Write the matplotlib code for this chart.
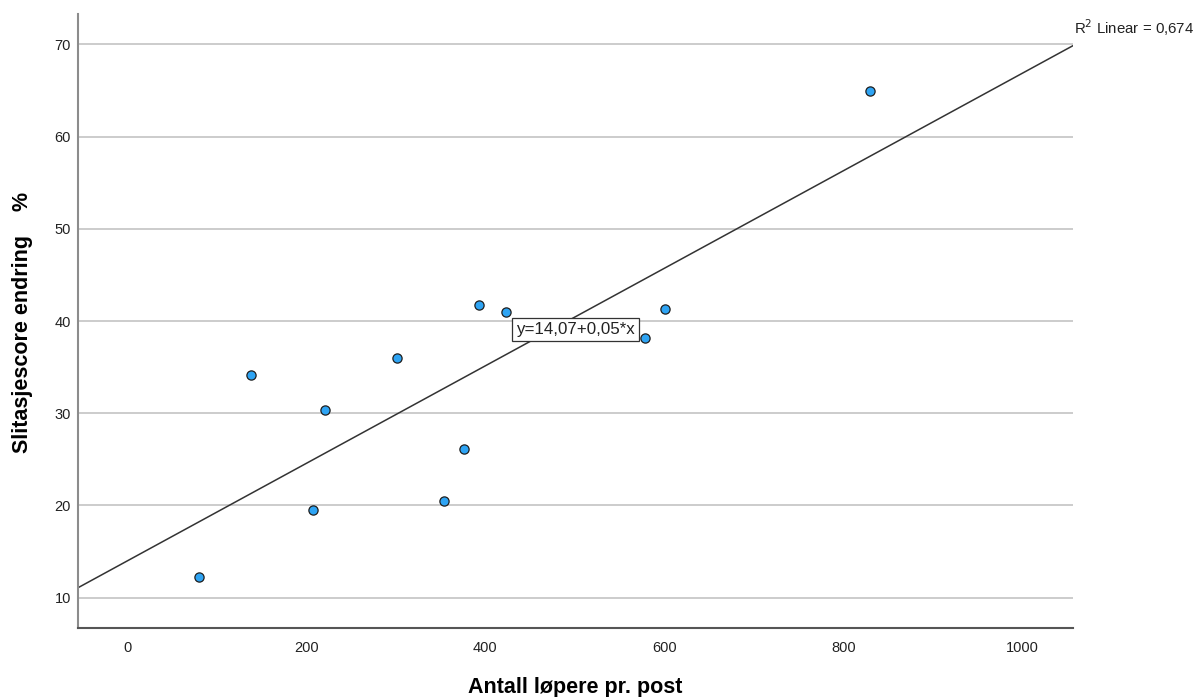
import numpy as np
import matplotlib.pyplot as plt

plt.rcParams['font.family'] = ['Liberation Sans', 'DejaVu Sans']

# data
runners = [80, 139, 208, 221, 301, 354, 376, 393, 423, 579, 601, 830]
wear_change = [12.2, 34.2, 19.5, 30.3, 36.0, 20.5, 26.1, 41.7, 41.0, 38.2, 41.3, 65.0]
x_ticks = [0, 200, 400, 600, 800, 1000]
y_ticks = [10, 20, 30, 40, 50, 60, 70]
fit_label = 'y=14,07+0,05*x'
r2_label = 'R$^2$ Linear = 0,674'

W, H = 1195, 697
fig = plt.figure(figsize=(W/100, H/100), dpi=100)
ax = fig.add_axes([0.0653, 0.0986, 0.8322, 0.8813])

xlim = (-54.7, 1056)
ylim = (6.68, 73.3)
ax.set_xlim(xlim)
ax.set_ylim(ylim)

for yt in y_ticks:
	ax.axhline(yt, color='#c8c8c8', lw=1.3, zorder=0)

slope, icpt = np.polyfit(runners, wear_change, 1)
xl = np.array(xlim)
ax.plot(xl, icpt + slope*xl, color='#333333', lw=1.1, zorder=2)

ax.scatter(runners, wear_change, s=44, color='#2ea4f4', edgecolor='#1e1e1e', linewidth=0.9, zorder=3)

ax.text(501, 39.06, fit_label, ha='center', va='center', fontsize=12.2, color='#222222',
	bbox=dict(boxstyle='square,pad=0.25', fc='white', ec='#333333', lw=0.9), zorder=4)

ax.text(1.001, 0.977, r2_label, transform=ax.transAxes, ha='left', va='center', fontsize=10.8, color='#222222')

ax.set_xticks(x_ticks)
ax.set_yticks(y_ticks)
ax.tick_params(length=0, labelsize=10.5, colors='#222222')
ax.tick_params(axis='x', pad=9)
ax.tick_params(axis='y', pad=5)

for s in ['top', 'right']:
	ax.spines[s].set_visible(False)
ax.spines['left'].set_color('#8c8c8c')
ax.spines['left'].set_linewidth(1.5)
ax.spines['bottom'].set_color('#555555')
ax.spines['bottom'].set_linewidth(1.5)

# axis titles placed in pixels like the reference
fig.text(575/W, 1 - 687/H, 'Antall løpere pr. post', ha='center', va='center',
	fontsize=15.5, fontweight='bold')
fig.text(23/W, 1 - 322/H, 'Slitasjescore endring    %', ha='center', va='center',
	rotation=90, fontsize=15.5, fontweight='bold')

fig.savefig('out.png', dpi=100)
